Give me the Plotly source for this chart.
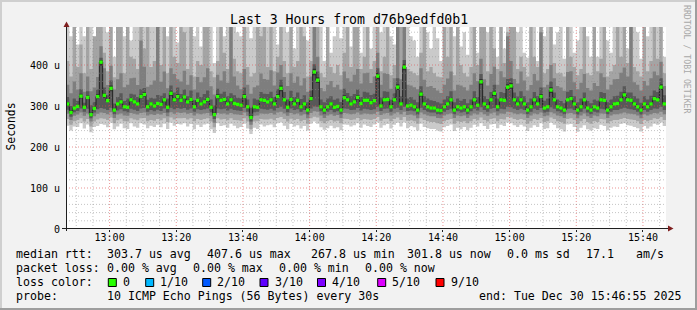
import plotly.graph_objects as go
import pandas as pd

# ---------------- data (values in microseconds), one column per minute ----------------
START = "2025-12-30 12:46:55"

median = [305,284,295,299,324,297,321,279,294,323, 407,326,313,343,290,305,310,298,297,315,
          310,305,323,328,298,305,300,306,304,315, 297,331,315,323,314,322,310,316,298,314,
          305,310,316,297,279,323,314,316,305,315, 306,304,302,323,298,272,298,297,315,314,
          310,315,305,323,343,315,297,316,305,314, 298,305,290,318,383,363,298,290,298,305,
          297,299,290,320,315,305,310,321,306,314, 314,308,313,373,300,315,316,298,315,346,
          305,395,300,302,298,290,329,305,298,295, 295,290,289,298,305,315,290,298,295,298,
          290,298,315,302,359,305,298,315,331,298, 315,314,346,349,315,305,315,305,290,298,
          315,305,323,295,298,339,315,298,295,290, 315,318,305,290,298,315,295,290,298,295,
          315,314,290,298,305,306,315,327,315,314, 305,298,290,305,298,305,318,315,346,305]

ping1 = [252,240,250,249,258,245,255,236,249,251, 256,254,248,259,243,250,257,246,244,258,
         250,247,258,255,246,252,249,254,248,257, 244,259,252,256,255,258,250,256,243,254,
         249,255,257,243,234,258,251,253,247,257, 252,246,249,257,245,232,247,244,255,250,
         253,255,248,258,260,252,243,256,250,253, 245,251,240,257,262,257,248,242,246,252,
         246,248,241,255,254,250,253,258,247,255, 251,249,255,260,247,253,256,245,254,259,
         250,260,246,251,248,240,257,249,246,244, 244,240,238,248,251,255,239,247,243,249,
         241,247,254,250,258,251,244,255,256,246, 254,251,260,258,253,249,254,250,239,247,
         253,249,258,244,246,259,254,246,243,238, 255,256,249,237,247,253,243,240,246,244,
         254,251,241,247,250,249,256,258,253,252, 249,246,238,251,245,250,257,254,260,251]

ping2 = [268,254,263,266,270,262,268,250,262,267, 270,269,266,272,258,265,269,263,262,270,
         267,265,270,271,263,266,264,268,265,270, 261,272,267,270,270,271,267,270,263,268,
         266,268,270,262,248,270,267,268,265,270, 266,265,264,270,262,243,262,263,268,267,
         267,269,265,271,273,268,262,269,266,268, 263,266,257,270,274,272,263,258,263,266,
         262,264,258,269,268,266,267,271,265,268, 267,266,268,273,264,268,269,263,268,272,
         266,273,264,265,263,257,270,266,263,261, 261,258,256,263,266,268,257,263,261,263,
         258,263,268,265,272,266,262,268,270,263, 268,267,273,272,268,266,268,266,257,263,
         268,266,271,261,263,272,268,263,261,257, 268,270,266,256,263,268,261,257,263,261,
         268,267,258,263,266,266,268,271,268,267, 266,263,256,266,263,266,270,268,273,266]

ping3 = [281,266,276,279,284,276,282,262,275,281, 284,283,280,285,271,279,282,277,276,283,
         281,279,283,284,277,280,278,281,279,283, 275,285,281,284,283,284,281,283,277,282,
         280,282,283,276,259,283,281,282,279,283, 280,279,278,284,276,254,276,277,282,281,
         281,283,279,284,286,282,276,283,280,282, 277,280,270,283,287,286,277,271,277,280,
         276,278,271,283,282,280,281,284,279,282, 281,280,281,286,278,282,283,277,282,285,
         280,286,278,279,277,270,284,280,277,275, 275,271,270,277,280,282,271,277,275,277,
         271,277,282,279,285,280,276,282,284,277, 282,281,286,285,282,280,282,280,271,277,
         282,280,284,275,277,285,282,277,275,271, 282,283,280,270,277,282,275,271,277,275,
         282,281,271,277,280,280,282,284,282,281, 280,277,270,280,277,280,283,282,286,280]

ping4 = [291,274,285,288,294,286,293,270,284,292, 295,293,290,296,280,289,292,287,285,293,
         291,288,294,295,286,290,287,291,288,294, 284,296,292,295,293,295,291,294,286,292,
         290,292,294,285,268,294,292,293,289,293, 290,289,288,295,286,262,285,286,293,292,
         291,293,289,295,298,293,285,294,290,292, 286,290,279,294,299,298,287,280,286,290,
         285,287,280,294,293,290,291,295,289,293, 292,290,292,298,288,293,294,286,293,296,
         290,298,288,289,287,279,296,290,286,284, 284,280,279,286,290,293,280,287,284,286,
         280,287,293,289,297,290,286,293,295,287, 293,292,298,297,293,290,293,290,280,286,
         293,290,295,284,286,297,293,287,284,280, 293,294,290,279,286,293,284,280,286,284,
         293,292,280,286,290,290,293,296,293,292, 290,286,279,290,286,290,294,293,298,290]

ping5 = [301,280,292,296,318,293,317,275,290,318, 399,320,309,336,286,301,306,294,293,310,
         306,301,318,322,294,301,296,302,300,311, 293,325,310,318,310,317,306,311,294,310,
         301,306,311,293,275,318,310,311,301,310, 302,300,298,318,294,268,294,293,311,309,
         306,311,301,318,336,311,293,312,301,310, 294,301,286,313,375,356,294,286,294,301,
         293,295,286,315,311,301,306,316,302,310, 310,304,309,365,296,311,312,294,311,339,
         301,387,296,298,294,286,323,301,294,291, 291,286,285,294,301,311,286,294,291,294,
         286,294,311,298,352,301,294,311,325,294, 311,310,339,342,311,301,311,301,286,294,
         311,301,318,291,294,332,311,294,291,286, 311,314,301,286,294,311,291,286,294,291,
         311,310,286,294,301,302,311,322,311,310, 301,294,286,301,294,301,314,311,339,301]

ping6 = [310,289,299,303,330,301,326,284,298,329, 412,331,317,350,294,309,315,302,301,320,
         314,309,328,334,302,309,304,310,308,320, 301,337,320,329,318,327,314,321,302,318,
         309,314,321,301,284,329,318,321,309,320, 310,308,306,329,302,277,302,301,320,318,
         314,320,309,329,350,320,301,321,309,318, 302,309,294,324,391,370,302,294,302,309,
         301,303,294,326,320,309,314,327,310,318, 318,312,317,381,304,320,321,302,320,353,
         309,402,304,306,302,294,335,309,302,299, 299,294,293,302,309,320,294,302,299,302,
         294,302,320,306,366,309,302,320,337,302, 320,318,353,356,320,309,320,309,294,302,
         320,309,329,299,302,346,320,302,299,294, 320,323,309,294,302,320,299,294,302,299,
         320,318,294,302,309,310,320,333,320,318, 309,302,294,309,302,309,323,320,353,309]

ping7 = [322,300,318,312,341,308,336,302,310,340, 418,345,326,362,306,322,331,312,318,330,
         328,322,341,344,315,320,318,327,325,331, 318,350,333,345,329,340,324,338,314,333,
         322,329,338,316,301,342,330,335,324,331, 326,320,319,345,316,296,318,315,334,330,
         329,335,322,341,364,334,316,337,322,333, 317,326,309,338,402,384,316,309,318,324,
         315,318,310,342,332,324,329,340,322,335, 333,327,330,392,321,336,335,315,331,368,
         324,412,318,322,315,309,348,324,318,314, 312,309,306,316,324,336,309,318,313,317,
         307,316,336,322,378,324,317,334,352,318, 334,332,366,368,333,323,336,324,309,318,
         334,324,345,313,318,360,333,316,312,307, 335,339,324,309,318,333,312,307,316,313,
         334,332,309,316,324,325,335,348,333,333, 324,318,308,324,316,325,338,334,368,326]

ping8 = [352,331,360,340,380,335,372,336,345,371, 446,392,351,398,340,365,380,346,352,368,
         369,351,460,396,347,352,362,520,359,384, 343,392,378,365,360,386,352,375,340,371,
         358,370,392,348,328,376,362,385,357,600, 372,350,341,390,352,330,346,350,379,366,
         364,387,350,382,400,371,349,380,357,372, 350,368,335,372,600,420,344,336,352,361,
         346,352,340,384,368,360,376,390,355,380, 381,356,372,430,352,380,378,342,368,600,
         365,600,352,350,346,341,392,364,347,349, 344,338,332,352,367,384,338,352,350,346,
         338,352,380,361,415,365,350,378,396,352, 385,370,470,410,366,355,384,362,338,351,
         378,362,480,346,352,400,368,349,345,337, 383,385,358,341,357,378,344,338,356,349,
         380,370,340,352,365,366,381,394,372,600, 358,352,338,361,350,368,384,375,408,349]

ping9 = [410,372,600,395,450,380,600,390,470,600, 600,430,385,520,370,600,600,380,600,420,
         415,390,600,440,600,395,410,560,400,600, 380,600,420,405,600,480,390,600,372,410,
         400,600,600,385,370,410,600,430,390,600, 415,385,380,600,395,372,380,600,470,600,
         395,600,385,420,600,410,380,600,395,410, 600,470,372,410,600,600,380,370,600,395,
         380,400,375,430,600,395,600,600,390,420, 600,390,410,600,385,420,600,375,400,600,
         600,600,390,385,380,375,430,600,385,395, 380,372,370,600,420,600,375,600,400,380,
         372,395,600,400,600,600,385,600,440,390, 600,405,480,600,600,390,420,395,372,600,
         420,395,600,380,390,600,405,380,380,372, 600,420,395,375,390,600,380,375,600,385,
         415,600,372,385,400,600,420,600,405,600, 395,385,372,600,385,410,600,415,600,380]

ping10 = [600,470,600,450,600,470,600,600,440,600, 600,600,480,600,420,600,600,470,600,460,
          600,600,600,600,600,520,600,600,600,600, 470,600,600,455,600,600,520,600,470,600,
          445,600,600,600,405,600,600,470,600,600, 600,480,470,600,600,465,600,600,600,600,
          600,600,600,450,600,600,480,600,440,600, 600,600,460,600,600,600,600,410,600,430,
          470,600,465,600,600,445,600,600,430,600, 600,440,600,600,480,600,600,470,450,600,
          600,600,600,470,460,420,600,600,480,440, 600,465,410,600,600,600,470,600,445,480,
          425,600,600,430,600,600,480,600,600,420, 600,440,600,600,600,480,600,430,418,600,
          600,410,600,470,600,600,450,480,600,415, 600,600,430,460,600,600,470,420,600,420,
          600,600,460,430,600,600,600,600,440,600, 600,480,415,600,470,600,600,600,600,420]

x_tick_labels = ["13:00", "13:20", "13:40", "14:00", "14:20", "14:40", "15:00", "15:20", "15:40"]
y_tick_values = [0, 100, 200, 300, 400]
y_tick_labels = ["0", "100 u", "200 u", "300 u", "400 u"]
loss_labels = ["0", "1/10", "2/10", "3/10", "4/10", "5/10", "9/10"]
loss_colors = ["#26ff00", "#00b8ff", "#0059ff", "#5e00ff", "#7e00ff", "#dd00ff", "#ff0000"]
rtt_items = ["303.7 us avg", "407.6 us max", "267.8 us min", "301.8 us now", "0.0 ms sd", "17.1", "am/s"]
loss_items = ["0.00 % avg", "0.00 % max", "0.00 % min", "0.00 % now"]

# ---------------- layout helpers ----------------
W, H = 697, 310
L, R, T, B = 66, 31, 27, 81
PW, PH = W - L - R, H - T - B
Y_MAX = 492.7
MONO = "DejaVu Sans Mono"

def px(x):
    return (x - L) / PW

def py(y):
    return (H - B - y) / PH

t0 = pd.Timestamp(START)
n = len(median)
edges = [t0 + pd.Timedelta(minutes=i) for i in range(n + 1)]
centers = [t0 + pd.Timedelta(seconds=60 * i + 30) for i in range(n)]
t_end = t0 + pd.Timedelta(hours=3)

def stepped(v):
    return list(v) + [v[-1]]

fig = go.Figure()

bands = [(ping1, ping10, "#cacaca"), (ping2, ping9, "#a4a4a4"), (ping3, ping8, "#7e7e7e"),
         (ping4, ping7, "#585858"), (ping5, ping6, "#323232")]
for lo, hi, col in bands:
    fig.add_trace(go.Scatter(x=edges, y=stepped(lo), mode="lines",
                             line=dict(width=0, shape="hv"), hoverinfo="skip", showlegend=False))
    fig.add_trace(go.Scatter(x=edges, y=stepped(hi), mode="lines",
                             line=dict(width=0, shape="hv"), fill="tonexty", fillcolor=col,
                             hoverinfo="skip", showlegend=False))

# median line
fig.add_trace(go.Scatter(x=edges, y=stepped(median), mode="lines",
                         line=dict(width=1, shape="hv", color="#202020"),
                         hoverinfo="skip", showlegend=False))
# median marks coloured by loss (all 0 loss -> green)
fig.add_trace(go.Scatter(x=centers, y=median, mode="markers",
                         marker=dict(symbol="square", size=3.4, color=loss_colors[0], line=dict(width=0)),
                         hoverinfo="skip", showlegend=False))

shapes = []
MINOR = "rgba(140,140,140,0.5)"
MAJOR = "rgba(222,79,79,0.6)"
DASH = "1px,2px"
# grid on top of the smoke
for t in pd.date_range("2025-12-30 12:50", "2025-12-30 15:45", freq="5min"):
    major = t.minute % 20 == 0
    shapes.append(dict(type="line", xref="x", yref="y", x0=t, x1=t, y0=0, y1=Y_MAX, layer="above",
                       line=dict(color=MAJOR if major else MINOR, width=1, dash=DASH)))
for v in range(20, 481, 20):
    major = v % 100 == 0
    shapes.append(dict(type="line", xref="x", yref="y", x0=t0, x1=t_end, y0=v, y1=v, layer="above",
                       line=dict(color=MAJOR if major else MINOR, width=1, dash=DASH)))

def pline(x0, y0, x1, y1, color, width=1):
    shapes.append(dict(type="line", xref="paper", yref="paper", x0=px(x0), y0=py(y0),
                       x1=px(x1), y1=py(y1), layer="above", line=dict(color=color, width=width)))

def prect(x0, y0, x1, y1, fill, lc=None, lw=0):
    shapes.append(dict(type="rect", xref="paper", yref="paper", x0=px(x0), y0=py(y0),
                       x1=px(x1), y1=py(y1), layer="above", fillcolor=fill,
                       line=dict(color=lc or fill, width=lw)))

def ppath(pts, fill):
    d = "M" + " L".join(f"{px(x)},{py(y)}" for x, y in pts) + " Z"
    shapes.append(dict(type="path", xref="paper", yref="paper", path=d, layer="above",
                       fillcolor=fill, line=dict(width=0)))

# axes with arrows
pline(62, 228.5, 668, 228.5, "#1f1f1f")
pline(66.5, 231, 66.5, 26, "#1f1f1f")
ppath([(668, 225.5), (668, 231.5), (673.5, 228.5)], "#7f1f1f")
ppath([(63.5, 27), (69.5, 27), (66.5, 21.5)], "#7f1f1f")

# 3D frame
prect(0, 0, W, 2, "#cfcfcf")
prect(0, 0, 2, H, "#cfcfcf")
prect(0, H - 2, W, H, "#9e9e9e")
prect(W - 2, 0, W, H, "#9e9e9e")

ann = []

def text(x, y, s, size=11.6, anchor="left", color="#000000", angle=0):
    ann.append(dict(x=px(x), y=py(y), xref="paper", yref="paper", text=s, showarrow=False,
                    xanchor=anchor, yanchor="middle", textangle=angle, borderpad=0, borderwidth=0,
                    font=dict(family=MONO, size=size, color=color)))

text(348.5, 19.5, "Last 3 Hours from d76b9edfd0b1", size=13.2, anchor="center")
text(10, 126.5, "Seconds", size=11.4, anchor="center", angle=-90)
text(687, 59, "RRDTOOL / TOBI OETIKER", size=8.2, anchor="center", color="#a8a8a8", angle=90)

LY = [254, 268, 282, 296]
text(15.5, LY[0], "median rtt:")
for xs, s in zip([106.5, 206.5, 311, 406.5, 506.5, 585.5, 635.5], rtt_items):
    text(xs, LY[0], s)
text(15.5, LY[1], "packet loss:")
for xs, s in zip([106.5, 192.5, 278.5, 365], loss_items):
    text(xs, LY[1], s)
text(15.5, LY[2], "loss color:")
for xb, lab, col in zip([108.3, 145.7, 202.7, 260, 317.5, 377.7, 436], loss_labels, loss_colors):
    prect(xb, 278.5, xb + 8, 286.5, col, "#000000", 1)
    text(xb + 14.5, LY[2], lab)
text(15.5, LY[3], "probe:")
text(106.5, LY[3], "10 ICMP Echo Pings (56 Bytes) every 30s")
text(681, LY[3], "end: Tue Dec 30 15:46:55 2025", anchor="right")

tick_vals = [pd.Timestamp("2025-12-30 " + s) for s in x_tick_labels]

fig.update_layout(
    width=W, height=H, autosize=False,
    margin=dict(l=L, r=R, t=T, b=B, pad=0),
    paper_bgcolor="#f2f2f2", plot_bgcolor="#ffffff",
    showlegend=False,
    shapes=shapes, annotations=ann,
    xaxis=dict(range=[t0, t_end], showgrid=False, zeroline=False, showline=False,
               tickmode="array", tickvals=tick_vals, ticktext=x_tick_labels,
               ticks="outside", ticklen=2, tickcolor="#1f1f1f", ticklabelstandoff=-3,
               tickfont=dict(family=MONO, size=10, color="#000000"), fixedrange=True),
    yaxis=dict(range=[0, Y_MAX], showgrid=False, zeroline=False, showline=False,
               tickmode="array", tickvals=y_tick_values, ticktext=y_tick_labels,
               ticks="", ticklabelstandoff=5,
               tickfont=dict(family=MONO, size=10, color="#000000"), fixedrange=True),
)

fig.write_html("out.html")
